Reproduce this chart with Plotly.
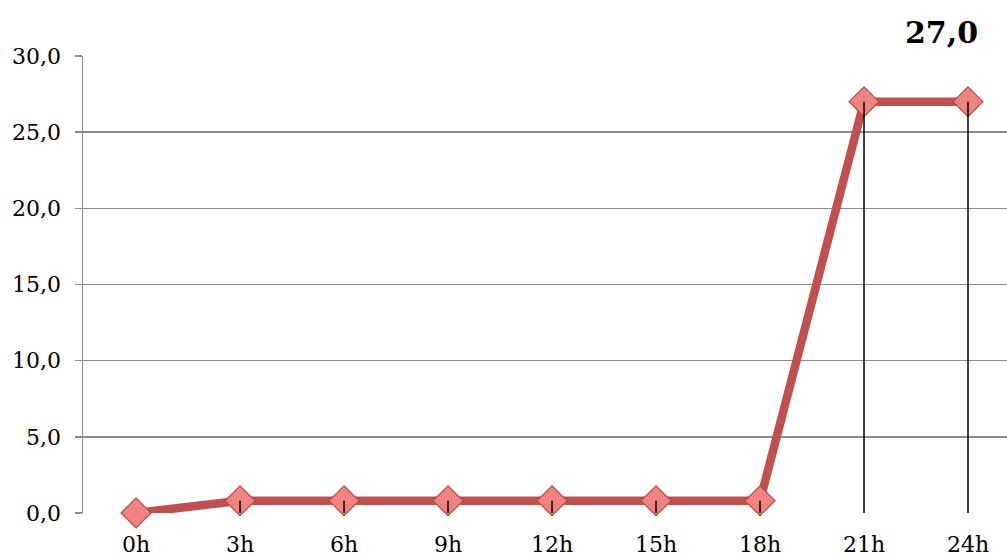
import plotly.graph_objects as go

categories = ["0h", "3h", "6h", "9h", "12h", "15h", "18h", "21h", "24h"]
values = [0.0, 0.8, 0.8, 0.8, 0.8, 0.8, 0.8, 27.0, 27.0]
y_ticks = [0, 5, 10, 15, 20, 25, 30]
y_tick_labels = ["0,0", "5,0", "10,0", "15,0", "20,0", "25,0", "30,0"]
title_text = "27,0"

FONT = "DejaVu Serif"

fig = go.Figure()

xi = list(range(len(categories)))

fig.add_trace(go.Scatter(
    x=xi, y=values, mode="lines+markers",
    line=dict(color="#C0504D", width=8.5),
    marker=dict(symbol="diamond", size=23, color="#EF8480",
                line=dict(color="#B84A47", width=1.2)),
    cliponaxis=False, showlegend=False, hoverinfo="skip",
))

# drop lines from each point to the axis
dx, dy = [], []
for i, v in zip(xi, values):
    dx += [i, i, None]
    dy += [v, 0, None]
fig.add_trace(go.Scatter(
    x=dx, y=dy, mode="lines",
    line=dict(color="black", width=1.5),
    cliponaxis=False, showlegend=False, hoverinfo="skip",
))

fig.update_layout(
    width=1007, height=557,
    margin=dict(l=83, r=0, t=56, b=44),
    paper_bgcolor="white", plot_bgcolor="white",
    font=dict(family=FONT, size=22, color="black"),
    xaxis=dict(
        range=[-0.51, 8.375], automargin=False,
        tickvals=xi, ticktext=categories,
        showgrid=False, zeroline=False, showline=False,
        ticks="", ticklabelstandoff=16,
    ),
    yaxis=dict(
        range=[0, 30], automargin=False,
        tickvals=y_ticks, ticktext=y_tick_labels,
        showgrid=True, gridcolor="#8C8C8C", gridwidth=1.5,
        zeroline=False, showline=True, linecolor="#8C8C8C", linewidth=1.5,
        ticks="outside", ticklen=7, tickcolor="#8C8C8C", tickwidth=1.5,
        ticklabelstandoff=9,
    ),
    annotations=[dict(
        text="<b>" + title_text + "</b>", xref="paper", yref="paper",
        x=1, y=1, xanchor="right", yanchor="middle",
        xshift=-27, yshift=24, showarrow=False,
        font=dict(family=FONT, size=30, color="black"),
    )],
)

# remove the default 8px page margin so the figure fills the window exactly
fig.write_html("out.html",
               config={"displayModeBar": False, "staticPlot": True},
               post_script="document.body.style.margin='0';document.body.style.overflow='hidden';")
